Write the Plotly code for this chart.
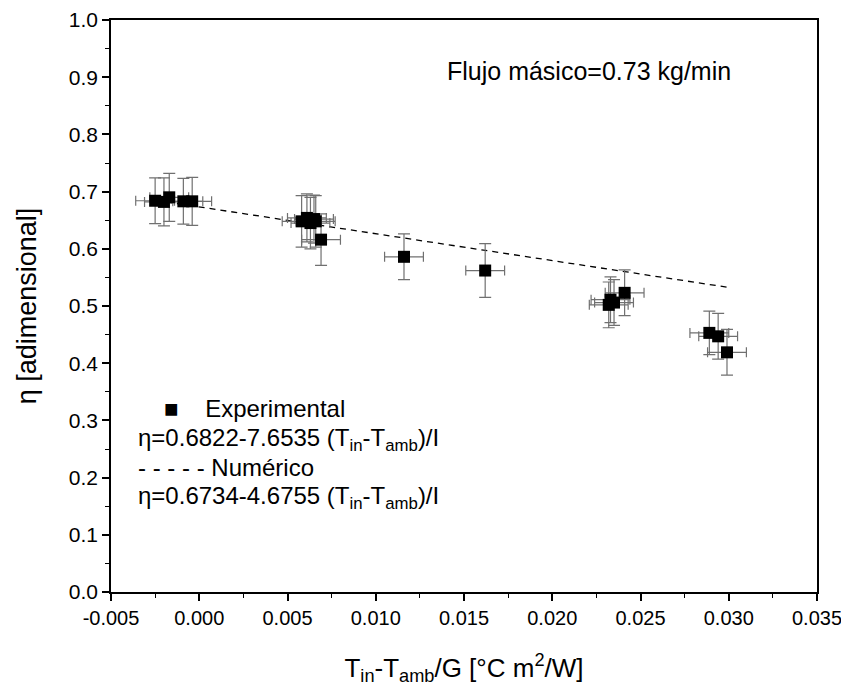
import plotly.graph_objects as go

x_exp = [-0.0025, -0.0020, -0.0017, -0.0009, -0.0004,
         0.0058, 0.0061, 0.0063, 0.0065, 0.0066, 0.0069,
         0.0116, 0.0162,
         0.0232, 0.0233, 0.0235, 0.0241,
         0.0289, 0.0294, 0.0299]
y_exp = [0.684, 0.682, 0.690, 0.683, 0.683,
         0.648, 0.654, 0.645, 0.652, 0.648, 0.616,
         0.586, 0.562,
         0.502, 0.511, 0.506, 0.523,
         0.453, 0.447, 0.419]
x_err = [0.0011] * len(x_exp)
y_err = [0.040, 0.042, 0.042, 0.040, 0.042,
         0.045, 0.042, 0.045, 0.042, 0.045, 0.045,
         0.040, 0.047,
         0.040, 0.040, 0.040, 0.040,
         0.038, 0.040, 0.040]

# Numerical fit line endpoints
x_num = [-0.0025, 0.0301]
y_num = [0.685, 0.532]

x_ticks = [-0.005, 0.000, 0.005, 0.010, 0.015, 0.020, 0.025, 0.030, 0.035]
x_ticklabels = ["-0.005", "0.000", "0.005", "0.010", "0.015", "0.020", "0.025", "0.030", "0.035"]
y_ticks = [0.0, 0.1, 0.2, 0.3, 0.4, 0.5, 0.6, 0.7, 0.8, 0.9, 1.0]
y_ticklabels = ["0.0", "0.1", "0.2", "0.3", "0.4", "0.5", "0.6", "0.7", "0.8", "0.9", "1.0"]

FONT = "Liberation Sans, Arial, sans-serif"

fig = go.Figure()
fig.add_trace(go.Scatter(
    x=x_num, y=y_num, mode="lines",
    line=dict(color="black", width=1.3, dash="6px,5px"),
    showlegend=False, hoverinfo="skip"))
fig.add_trace(go.Scatter(
    x=x_exp, y=y_exp, mode="markers",
    marker=dict(symbol="square", size=12, color="black"),
    error_x=dict(type="data", array=x_err, color="#707070", thickness=1.2, width=5),
    error_y=dict(type="data", array=y_err, color="#707070", thickness=1.2, width=6),
    showlegend=False))

ann = []
ann.append(dict(x=0.0221, y=0.910, xref="x", yref="y", text="Flujo másico=0.73 kg/min",
                showarrow=False, font=dict(family=FONT, size=25, color="black"),
                xanchor="center", yanchor="middle"))
legend_lines = [
    ("■    Experimental", 0.320),
    ("η=0.6822-7.6535 (T<sub>in</sub>-T<sub>amb</sub>)/I", 0.266),
    ("- - - - - Numérico", 0.218),
    ("η=0.6734-4.6755 (T<sub>in</sub>-T<sub>amb</sub>)/I", 0.165),
]
for i, (txt, yy) in enumerate(legend_lines):
    ann.append(dict(x=-0.0036 if i != 0 else -0.0021, y=yy, xref="x", yref="y", text=txt,
                    showarrow=False, font=dict(family=FONT, size=24, color="black"),
                    xanchor="left", yanchor="middle"))

fig.update_layout(
    width=841, height=682,
    margin=dict(l=103, r=32, t=12, b=98),
    paper_bgcolor="white", plot_bgcolor="white",
    font=dict(family=FONT, size=21, color="black"),
    annotations=ann,
    xaxis=dict(range=[-0.005, 0.035], tickvals=x_ticks, ticktext=x_ticklabels, automargin=False,
               ticklabeloverflow="allow",
               showgrid=False, zeroline=False, showline=True, linecolor="black", linewidth=1.5,
               mirror=True, ticks="outside", ticklen=7, tickwidth=1.5, tickcolor="black",
               minor=dict(ticks="outside", ticklen=4, tickwidth=1.2, tickcolor="black", dtick=0.0025),
               tickfont=dict(family=FONT, size=20),
               title=dict(text="T<sub>in</sub>-T<sub>amb</sub>/G [°C m<sup>2</sup>/W]",
                          font=dict(family=FONT, size=26), standoff=31)),
    yaxis=dict(range=[0.0, 1.0], tickvals=y_ticks, ticktext=y_ticklabels, automargin=False,
               ticklabeloverflow="allow",
               showgrid=False, zeroline=False, showline=True, linecolor="black", linewidth=1.5,
               mirror=True, ticks="outside", ticklen=7, tickwidth=1.5, tickcolor="black",
               minor=dict(ticks="outside", ticklen=4, tickwidth=1.2, tickcolor="black", dtick=0.05),
               tickfont=dict(family=FONT, size=21),
               title=dict(text="η [adimensional]", font=dict(family=FONT, size=27), standoff=24)),
)

fig.write_html("out.html")
